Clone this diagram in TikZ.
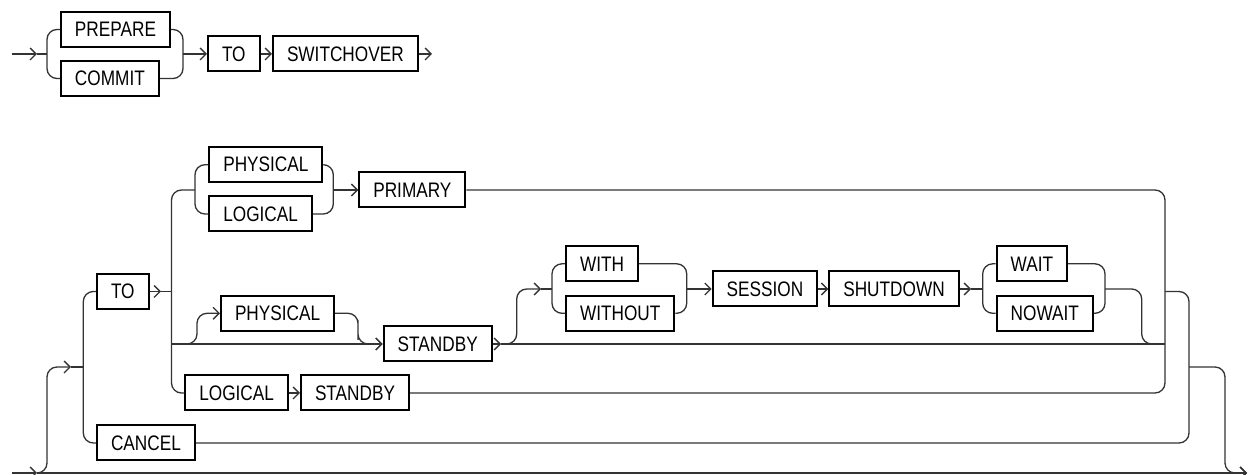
\documentclass[tikz,border=0pt]{standalone}
\usepackage{fontspec}
\setmainfont{Liberation Sans}[FakeStretch=0.82]
\usetikzlibrary{arrows.meta}

\begin{document}
\begin{tikzpicture}[x=0.5pt, y=-0.5pt,
  kw/.style={draw, line width=1pt, anchor=west, minimum height=17.5pt, inner xsep=7pt, inner ysep=0pt, font=\fontsize{10.5}{12}\selectfont},
  ln/.style={line width=0.65pt, draw=black!80, rounded corners=5pt},
  arr/.style={ln, -{Straight Barb[length=3pt,width=6pt]}}
]
\useasboundingbox (0,0) rectangle (1249,475);

% first statement
\node[kw] (prep) at (60,29.5) {PREPARE};
\node[kw] (commit) at (60,78.5) {COMMIT};
\node[kw] (to1) at (207,54) {TO};
\node[kw] (sw) at (272,54) {SWITCHOVER};
\coordinate (t0) at (12,54);
\coordinate (t1) at (37,54);
\coordinate (t2) at (47,54);
\coordinate (t3) at (183,54);
\coordinate (t4) at (432,54);
\draw[arr] (t0) -- (t1);
\draw[ln] (t1) -- (t2);
\draw[ln] (prep.west) -| (t2) |- (commit.west);
\draw[ln] (prep.east) -| (t3) |- (commit.east);
\draw[arr] (t3) -- (to1.west);
\draw[arr] (to1) -- (sw);
\draw[arr] (sw.east) -- (t4);

% second statement
\node[kw] (to2) at (96,291.5) {TO};
\node[kw] (cancel) at (96,443) {CANCEL};
\node[kw] (ph1) at (208.3,164.7) {PHYSICAL};
\node[kw] (lg1) at (208.3,214) {LOGICAL};
\node[kw] (prim) at (358.3,190) {PRIMARY};
\node[kw] (ph2) at (220,313.3) {PHYSICAL};
\node[kw] (sb1) at (382.7,344) {STANDBY};
\node[kw] (with) at (565,263.8) {WITH};
\node[kw] (without) at (565,313.3) {WITHOUT};
\node[kw] (sess) at (711.7,289) {SESSION};
\node[kw] (shut) at (828.3,289) {SHUTDOWN};
\node[kw] (wait) at (995.7,263.8) {WAIT};
\node[kw] (nowait) at (995.7,313.3) {NOWAIT};
\node[kw] (ls1) at (184.3,393) {LOGICAL};
\node[kw] (ls2) at (300,393) {STANDBY};

\coordinate (b0) at (12,473);
\coordinate (b1) at (37,473);
\coordinate (b2) at (47,367);
\coordinate (b3) at (71,367);
\coordinate (b4) at (83.3,367);
\coordinate (b5) at (161,291.5);
\coordinate (c0) at (171.5,291.5);
\coordinate (ctop) at (195,190);
\coordinate (cm) at (333.3,190);
\coordinate (cs) at (171.5,344);
\coordinate (cs2) at (185,344);
\coordinate (cs3) at (197,313.3);
\coordinate (cs4) at (358,330);
\coordinate (d1) at (501,344);
\coordinate (d2) at (516.7,289);
\coordinate (d3) at (541,289);
\coordinate (d4) at (552,289);
\coordinate (d5) at (686.7,289);
\coordinate (d6) at (971,289);
\coordinate (d7) at (982.7,289);
\coordinate (d8) at (1105,289);
\coordinate (d9) at (1141.7,344);
\coordinate (e3) at (1165,344);
\coordinate (r1) at (1165,291.5);
\coordinate (r2) at (1189,367);
\coordinate (r3) at (1225,473);
\coordinate (b9) at (1247,473);

\draw[arr] (b0) -- (b1);
\draw[arr] (b1) -- (b9);
\draw[arr] (b1) -| (b2) -- (b3);
\draw[ln] (b3) -- (b4);
\draw[ln] (to2.west) -| (b4) |- (cancel.west);
\draw[arr] (to2.east) -- (b5);
\draw[ln] (b5) -- (c0);
\draw[ln] (ctop) -| (c0) |- (ls1.west);
\draw[ln] (ph1.west) -| (ctop) |- (lg1.west);
\draw[ln] (ph1.east) -| (cm) |- (lg1.east);
\draw[arr] (cm) -- (prim.west);
\draw[arr] (cs) -- (sb1.west);
\draw[arr] (cs2) -| (cs3) -- (ph2.west);
\draw[arr] (ph2.east) -| (cs4) |- (sb1.west);
\draw[arr] (sb1.east) -- (d1);
\draw[ln] (d1) -- (e3);
\draw[arr] (d1) -| (d2) -- (d3);
\draw[ln] (d3) -- (d4);
\draw[ln] (with.west) -| (d4) |- (without.west);
\draw[ln] (with.east) -| (d5) |- (without.east);
\draw[arr] (d5) -- (sess.west);
\draw[arr] (sess) -- (shut);
\draw[arr] (shut.east) -- (d6);
\draw[ln] (d6) -- (d7);
\draw[ln] (wait.west) -| (d7) |- (nowait.west);
\draw[ln] (wait.east) -| (d8) |- (nowait.east);
\draw[ln] (d8) -| (d9) -- (e3);
\draw[arr] (ls1) -- (ls2);
\draw[ln] (prim.east) -| (r1) |- (ls2.east);
\draw[ln] (r1) -| (r2) |- (cancel.east);
\draw[arr] (r2) -| (r3) -- (b9);
\end{tikzpicture}
\end{document}
